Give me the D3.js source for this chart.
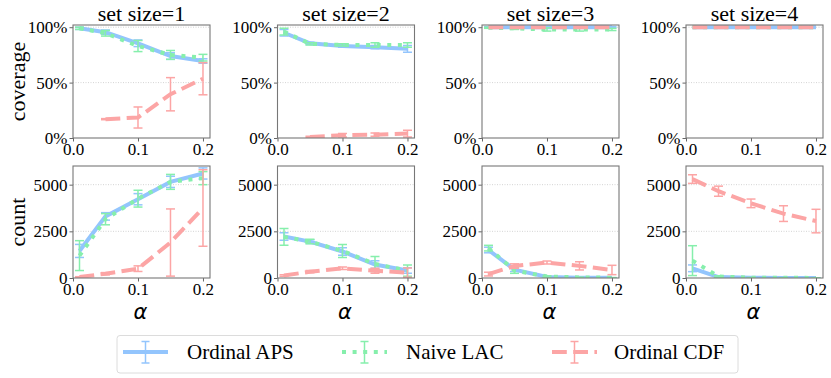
<!DOCTYPE html>
<html>
<head>
<meta charset="utf-8">
<script src="https://cdn.jsdelivr.net/npm/d3@7"></script>
<style>
  body { margin: 0; background: #fff; }
</style>
</head>
<body>
<svg id="chart" width="831" height="378"></svg>
<script>
// x values and panel titles
var alphas = [0.01, 0.05, 0.1, 0.15, 0.2];
var setSizes = ["set size=1", "set size=2", "set size=3", "set size=4"];
var methodNames = ["Ordinal APS", "Naive LAC", "Ordinal CDF"];
var xTicks = [0.0, 0.1, 0.2];
var covTicks = [0, 50, 100];
var cntTicks = [0, 2500, 5000];

// coverage (%), one row per set size
var covAPS = [[99, 95.5, 85.5, 74, 69.5], [95, 85.5, 83, 82, 80.5], [100, 100, 100, 100, 100], [100, 100, 100, 100, 100]];
var covAPSErr = [[1, 2, 3, 3, 2], [3, 1, 1, 1.5, 3], [0.5, 0.5, 0.5, 0.5, 0.5], [0, 0, 0, 0, 0]];
var covLAC = [[99, 94.5, 83, 75, 72.5], [96, 85, 84, 84, 84], [99.5, 99, 98, 98, 98], [100, 100, 100, 100, 100]];
var covLACErr = [[1, 2.5, 5, 4, 3], [3, 1, 1, 2, 2], [0.5, 1, 1.5, 1.5, 1], [0, 0, 0, 0, 0]];
var covCDF = [[null, 17, 18.5, 39.5, 53.5], [null, 1, 2.5, 3, 4], [100, 100, 100, 100, 100], [100, 100, 100, 100, 100]];
var covCDFErr = [[0, 0.5, 9.5, 15, 14.5], [0, 0.5, 1.5, 1.5, 3], [0, 0, 0, 0, 0], [0, 0, 0, 0, 0]];

// counts
var cntAPS = [[1450, 3300, 4220, 5150, 5600], [2220, 1950, 1420, 720, 400], [1500, 450, 60, 20, 10], [520, 50, 10, 5, 5]];
var cntAPSErr = [[350, 200, 300, 300, 300], [200, 100, 200, 200, 150], [150, 100, 30, 10, 5], [180, 20, 5, 3, 2]];
var cntLAC = [[1200, 3150, 4250, 5150, 5350], [2200, 1950, 1450, 750, 400], [1600, 400, 80, 30, 15], [930, 80, 15, 10, 5]];
var cntLACErr = [[800, 300, 450, 400, 350], [450, 120, 350, 400, 300], [150, 150, 40, 15, 10], [800, 40, 10, 5, 3]];
var cntCDF = [[50, 230, 500, 1900, 3750], [130, 340, 520, 390, 290], [210, 640, 830, 650, 430], [5300, 4650, 4000, 3450, 3050]];
var cntCDFErr = [[20, 60, 150, 1800, 2050], [40, 60, 70, 130, 250], [100, 120, 80, 220, 250], [230, 270, 230, 420, 630]];

var colors = ["#93c5fd", "#86efac", "#fca5a5"];
var dashes = [null, "4,6.6", "14.8,6.4"];
var SERIF = "Liberation Serif";

var svg = d3.select("#chart").style("font-family", SERIF);
var panelLefts = [73, 277.5, 482, 686];
var panelW = 137;
var rows = [
    {top: 25, bottom: 138, domain: [0, 102], ticks: covTicks, fmt: d => d + "%", label: "coverage",
     series: [[covAPS, covAPSErr], [covLAC, covLACErr], [covCDF, covCDFErr]]},
    {top: 166, bottom: 278, domain: [0, 6000], ticks: cntTicks, fmt: d => d, label: "count",
     series: [[cntAPS, cntAPSErr], [cntLAC, cntLACErr], [cntCDF, cntCDFErr]]}
];

rows.forEach(function(row, r) {
    var y = d3.scaleLinear().domain(row.domain).range([row.bottom, row.top]);

    svg.append("text")
        .attr("transform", "translate(25," + ((row.top + row.bottom) / 2) + ") rotate(-90)")
        .attr("text-anchor", "middle")
        .style("font-family", SERIF)
        .style("font-size", "22px")
        .text(row.label);

    panelLefts.forEach(function(left, p) {
        var x = d3.scaleLinear().domain([0, 0.2108]).range([left, left + panelW]);
        var g = svg.append("g");
        var clipId = "clip" + r + "_" + p;
        g.append("clipPath").attr("id", clipId).append("rect")
            .attr("x", left).attr("y", row.top)
            .attr("width", panelW).attr("height", row.bottom - row.top);

        // grid
        g.selectAll(".grid").data(row.ticks.filter(t => t > 0)).enter().append("line")
            .attr("x1", left).attr("x2", left + panelW)
            .attr("y1", d => y(d)).attr("y2", d => y(d))
            .attr("stroke", "#c8c8c8").attr("stroke-width", 0.8)
            .attr("stroke-dasharray", "1,1.5");

        // axes
        var ax = g.append("g").attr("transform", "translate(" + left + ",0)")
            .call(d3.axisLeft(y).tickValues(row.ticks).tickFormat(row.fmt).tickSize(3.5).tickPadding(2));
        var bx = g.append("g").attr("transform", "translate(0," + row.bottom + ")")
            .call(d3.axisBottom(x).tickValues(xTicks).tickFormat(d3.format(".1f")).tickSize(3.5).tickPadding(1));
        [ax, bx].forEach(function(a) {
            a.attr("font-family", null).attr("font-size", null);
            a.select(".domain").remove();
            a.selectAll("line").attr("stroke", "#666");
            a.selectAll("text").attr("fill", "#000")
                .style("font-size", "17px").style("font-family", SERIF);
        });

        // series
        var data = g.append("g").attr("clip-path", "url(#" + clipId + ")");
        row.series.forEach(function(s, m) {
            var vals = s[0][p], errs = s[1][p];
            var pts = alphas.map((a, i) => ({a: a, v: vals[i], e: errs[i]})).filter(d => d.v !== null);
            var eb = data.append("g").attr("stroke", colors[m]).attr("stroke-width", 1.5);
            pts.filter(d => d.e > 0).forEach(function(d) {
                eb.append("line").attr("x1", x(d.a)).attr("x2", x(d.a))
                    .attr("y1", y(d.v - d.e)).attr("y2", y(d.v + d.e));
                [d.v - d.e, d.v + d.e].forEach(function(c) {
                    eb.append("line").attr("x1", x(d.a) - 4.5).attr("x2", x(d.a) + 4.5)
                        .attr("y1", y(c)).attr("y2", y(c));
                });
            });
            data.append("path")
                .attr("d", d3.line().x(d => x(d.a)).y(d => y(d.v))(pts))
                .attr("fill", "none")
                .attr("stroke", colors[m])
                .attr("stroke-width", 4)
                .attr("stroke-dasharray", dashes[m]);
        });

        // frame
        g.append("rect").attr("x", left).attr("y", row.top)
            .attr("width", panelW).attr("height", row.bottom - row.top)
            .attr("fill", "none").attr("stroke", "#777").attr("stroke-width", 1.1);

        if (r == 0)
        {
            svg.append("text").attr("x", left + panelW / 2).attr("y", 21)
                .attr("text-anchor", "middle")
                .style("font-family", SERIF).style("font-size", "22px")
                .text(setSizes[p]);
        }
        else
        {
            svg.append("text").attr("x", left + panelW / 2 - 1).attr("y", 319)
                .attr("text-anchor", "middle")
                .style("font-family", "DejaVu Sans").style("font-style", "italic")
                .style("font-size", "21px")
                .text("\u03b1");
        }
    });
});

// legend
var leg = svg.append("g");
leg.append("rect").attr("x", 117).attr("y", 335.5).attr("width", 621).attr("height", 37.5)
    .attr("rx", 3).attr("fill", "#fff").attr("stroke", "#dcdcdc").attr("stroke-width", 1);
var legSampleX = [123, 342, 552];
var legTextX = [187, 406, 614];
methodNames.forEach(function(name, m) {
    var sx = legSampleX[m], cx = sx + 22.5;
    leg.append("line").attr("x1", sx).attr("x2", sx + 45).attr("y1", 352).attr("y2", 352)
        .attr("stroke", colors[m]).attr("stroke-width", 4).attr("stroke-dasharray", dashes[m]);
    leg.append("line").attr("x1", cx).attr("x2", cx).attr("y1", 341.5).attr("y2", 363)
        .attr("stroke", colors[m]).attr("stroke-width", 1.5);
    [341.5, 363].forEach(function(c) {
        leg.append("line").attr("x1", cx - 4).attr("x2", cx + 4).attr("y1", c).attr("y2", c)
            .attr("stroke", colors[m]).attr("stroke-width", 1.5);
    });
    leg.append("text").attr("x", legTextX[m]).attr("y", 359)
        .style("font-family", SERIF).style("font-size", "21px").text(name);
});
</script>
</body>
</html>
